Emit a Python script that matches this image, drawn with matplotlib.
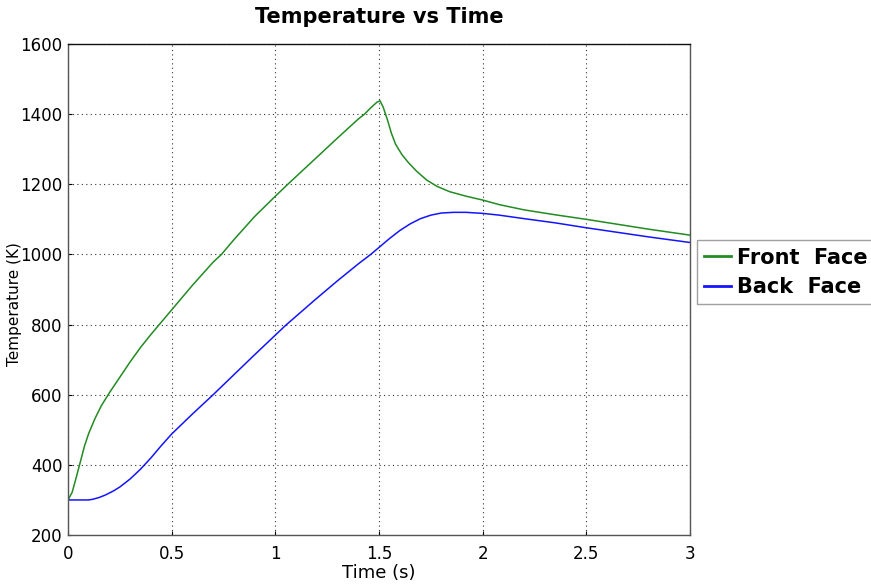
import matplotlib
matplotlib.use("Agg")
import matplotlib.pyplot as plt

# Front face temperature history (time in s, temperature in K)
front_time = [0.00, 0.02, 0.04, 0.06, 0.08, 0.10, 0.13, 0.16, 0.20, 0.25,
              0.30, 0.35, 0.40, 0.44, 0.50, 0.60, 0.70, 0.74, 0.80, 0.90,
              1.00, 1.06, 1.10, 1.20, 1.30, 1.40, 1.43, 1.46, 1.49, 1.505,
              1.52, 1.54, 1.56, 1.58, 1.61, 1.64, 1.68, 1.73, 1.78, 1.84,
              1.92, 2.00, 2.08, 2.20, 2.35, 2.50, 2.65, 2.80, 3.00]
front_temp = [300, 322, 365, 410, 455, 490, 532, 568, 606, 650,
              694, 735, 772, 800, 842, 912, 978, 1000, 1042, 1108,
              1166, 1200, 1222, 1277, 1332, 1386, 1400, 1418, 1434, 1438,
              1420, 1385, 1345, 1314, 1285, 1263, 1238, 1212, 1194, 1179,
              1166, 1155, 1142, 1127, 1113, 1100, 1086, 1072, 1055]

# Back face temperature history
back_time = [0.00, 0.05, 0.10, 0.12, 0.15, 0.18, 0.22, 0.25, 0.30, 0.35,
             0.40, 0.45, 0.50, 0.60, 0.70, 0.80, 0.90, 1.00, 1.05, 1.19,
             1.30, 1.40, 1.46, 1.50, 1.55, 1.60, 1.65, 1.70, 1.75, 1.80,
             1.86, 1.92, 2.00, 2.08, 2.20, 2.35, 2.50, 2.65, 2.80, 3.00]
back_temp = [300, 300, 300, 302, 307, 314, 326, 337, 360, 388,
             420, 455, 488, 545, 600, 657, 714, 770, 798, 870,
             925, 973, 1000, 1020, 1045, 1068, 1087, 1102, 1112, 1118,
             1120, 1120, 1117, 1112, 1102, 1090, 1076, 1063, 1050, 1034]

x_ticks = [0, 0.5, 1, 1.5, 2, 2.5, 3]
x_tick_labels = ["0", "0.5", "1", "1.5", "2", "2.5", "3"]
y_ticks = [200, 400, 600, 800, 1000, 1200, 1400, 1600]

plt.rcParams["font.family"] = ["DejaVu Sans"]

fig = plt.figure(figsize=(8.71, 5.88), dpi=100)
ax = fig.add_axes([0.0781, 0.0901, 0.7141, 0.8351])

ax.plot(front_time, front_temp, color="#228b22", linewidth=1.1, label="Front  Face")
ax.plot(back_time, back_temp, color="#1414ff", linewidth=1.1, label="Back  Face")

ax.set_xlim(0, 3)
ax.set_ylim(200, 1600)
ax.set_xticks(x_ticks)
ax.set_xticklabels(x_tick_labels)
ax.set_yticks(y_ticks)
ax.tick_params(axis="both", labelsize=12, length=3, direction="in")
ax.tick_params(axis="x", pad=7)
ax.tick_params(axis="y", pad=4)

ax.grid(True, color="#333333", linestyle=(0, (1, 3)), linewidth=0.8)
for side in ["left", "bottom", "right", "top"]:
    ax.spines[side].set_color("#555555")
    ax.spines[side].set_linewidth(1.0)
ax.spines["top"].set_color("#111111")

ax.set_title("Temperature vs Time", fontsize=15, fontweight="bold", pad=15)
ax.set_xlabel("Time (s)", fontsize=13, labelpad=1)
ax.set_ylabel("Temperature (K)", fontsize=11)
ax.yaxis.set_label_coords(-0.074, 0.47)

leg = ax.legend(loc="upper left", bbox_to_anchor=(697 / 871, (588 - 240.5) / 588),
                bbox_transform=fig.transFigure,
                prop={"size": 15, "weight": "bold"}, frameon=True,
                fancybox=False, handlelength=1.3, handletextpad=0.25,
                borderpad=0.35, labelspacing=0.45, borderaxespad=0)
leg.get_frame().set_edgecolor("#888888")
leg.get_frame().set_linewidth(1.0)
for line in leg.get_lines():
    line.set_linewidth(2.0)

fig.savefig("out.png", dpi=100)
